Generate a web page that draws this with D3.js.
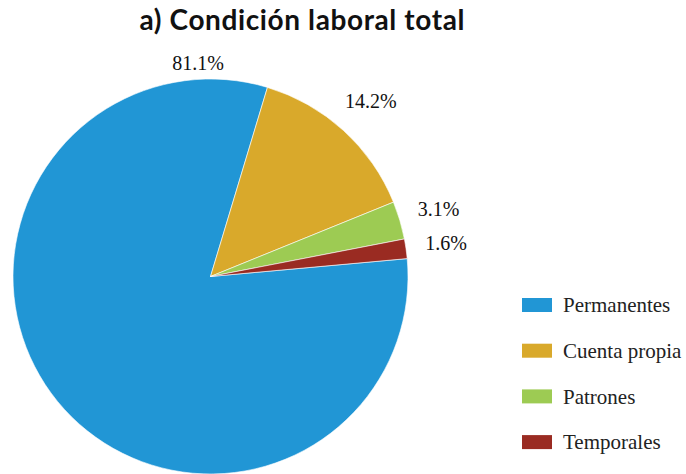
<!DOCTYPE html>
<html>
<head>
<meta charset="utf-8">
<script src="https://cdn.jsdelivr.net/npm/d3@7"></script>
<style>
  body { margin: 0; background: #fff; }
  svg { display: block; }
  .serif { font-family: 'Liberation Serif', 'Times New Roman', 'DejaVu Serif', serif; }
</style>
</head>
<body>
<svg id="chart"></svg>
<script>
// data
const categories = ['Permanentes', 'Cuenta propia', 'Patrones', 'Temporales'];
const values = [81.1, 14.2, 3.1, 1.6];
const colors = ['#2196d5', '#d9a92b', '#9dcb53', '#9a2b22'];

const width = 686, height = 474;
const cx = 210.5, cy = 276.5, radius = 197.5;

const svg = d3.select('#chart').attr('width', width).attr('height', height);

// title
svg.append('text')
  .attr('x', 302).attr('y', 30)
  .attr('text-anchor', 'middle')
  .style('font-family', 'Lato, sans-serif')
  .style('font-weight', 'bold')
  .style('font-size', '28px')
  .attr('textLength', 325)
  .attr('fill', '#111')
  .text('a) Condición laboral total');

const toRad = (deg) => (deg * Math.PI) / 180;

const pie = d3.pie()
  .sort(null)
  .value((d) => d)
  .startAngle(toRad(84.8))
  .endAngle(toRad(84.8 + 360));

const arc = d3.arc().innerRadius(0).outerRadius(radius);
const arcs = pie(values);

const g = svg.append('g').attr('transform', `translate(${cx},${cy})`);

g.selectAll('path')
  .data(arcs)
  .enter()
  .append('path')
  .attr('d', arc)
  .attr('fill', (d, i) => colors[i])
  .attr('stroke', '#fff')
  .attr('stroke-width', 0.6);

// labels: at slice middle, except the big slice, whose label sits at the top
const labelAt = (d, i) => {
  let a = (d.startAngle + d.endAngle) / 2;
  let r = 238;
  if (i === 0) { a = toRad(-3.3); r = 214; }
  return [Math.sin(a) * r, -Math.cos(a) * r];
};

g.selectAll('text.lbl')
  .data(arcs)
  .enter()
  .append('text')
  .attr('class', 'lbl serif')
  .attr('x', (d, i) => labelAt(d, i)[0])
  .attr('y', (d, i) => labelAt(d, i)[1])
  .attr('text-anchor', 'middle')
  .attr('dy', '0.35em')
  .style('font-size', '20px')
  .attr('fill', '#111')
  .text((d) => d.data.toFixed(1) + '%');

// legend
const legend = svg.append('g').attr('transform', 'translate(522,298)');
const row = legend.selectAll('g')
  .data(categories)
  .enter()
  .append('g')
  .attr('transform', (d, i) => `translate(0,${i * 45.7})`);

row.append('rect')
  .attr('width', 30).attr('height', 14)
  .attr('fill', (d, i) => colors[i]);

row.append('text')
  .attr('class', 'serif')
  .attr('x', 41).attr('y', 7)
  .attr('dy', '0.35em')
  .style('font-size', '21px')
  .attr('fill', '#222')
  .text((d) => d);
</script>
</body>
</html>
